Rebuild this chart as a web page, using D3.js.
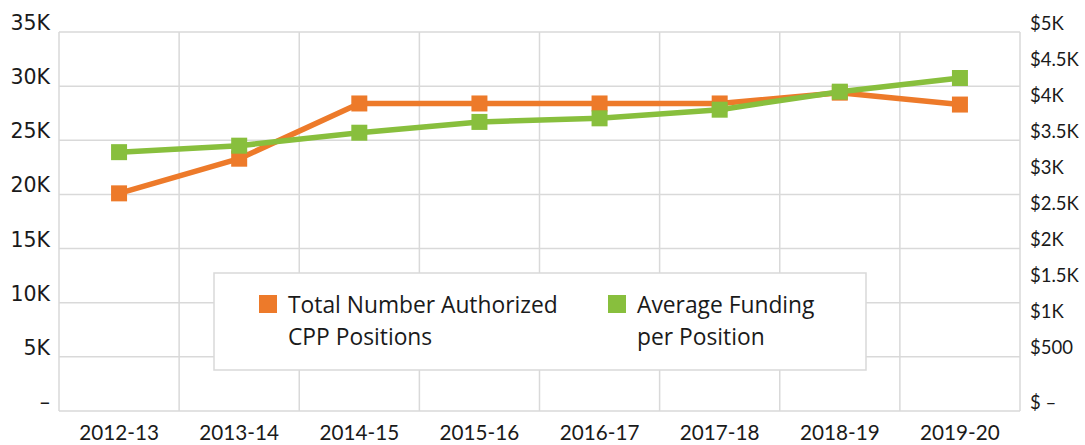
<!DOCTYPE html>
<html>
<head>
<meta charset="utf-8">
<script src="https://cdn.jsdelivr.net/npm/d3@7"></script>
<style>
  body { margin: 0; background: #fff; }
  svg text { fill: #1a1a1a; }
</style>
</head>
<body>
<svg id="chart"></svg>
<script>
var years = ["2012-13","2013-14","2014-15","2015-16","2016-17","2017-18","2018-19","2019-20"]
var positions = [20100, 23300, 28400, 28400, 28400, 28400, 29400, 28300]
var funding = [3220, 3310, 3490, 3640, 3690, 3810, 4060, 4250]
var leftTicks = [0, 5000, 10000, 15000, 20000, 25000, 30000, 35000]
var rightTicks = [0, 500, 1000, 1500, 2000, 2500, 3000, 3500, 4000, 4500, 5000]
var rightLabels = ["$ \u2013", "$500", "$1K", "$1.5K", "$2K", "$2.5K", "$3K", "$3.5K", "$4K", "$4.5K", "$5K"]

var screen = {width: 1085, height: 445}
var margins = {left: 59, right: 65, top: 32, bottom: 34}
var graph = {
    width: screen.width - margins.left - margins.right,
    height: screen.height - margins.top - margins.bottom
}

var orange = "#ED7A2A"
var green = "#88BF3D"

var svg = d3.select("#chart")
    .attr("width", screen.width)
    .attr("height", screen.height)

var target = svg.append("g")
    .attr("transform", "translate(" + margins.left + "," + margins.top + ")")

var xScale = d3.scaleBand()
    .domain(years)
    .range([0, graph.width])

var yLeft = d3.scaleLinear()
    .domain([0, 35000])
    .range([graph.height, 0])

// the secondary axis does not line up with the gridlines in the original
var yRight = d3.scaleLinear()
    .domain([0, 5000])
    .range([graph.height - 27, -8])

// grid
var grid = target.append("g")
grid.selectAll("line.h")
    .data(leftTicks)
    .enter()
    .append("line")
    .attr("x1", 0)
    .attr("x2", graph.width)
    .attr("y1", function(d) { return yLeft(d) })
    .attr("y2", function(d) { return yLeft(d) })
    .attr("stroke", "#d9d9d9")
    .attr("stroke-width", 1.5)

var bounds = years.map(function(y) { return xScale(y) }).concat([graph.width])
grid.selectAll("line.v")
    .data(bounds)
    .enter()
    .append("line")
    .attr("x1", function(d) { return d })
    .attr("x2", function(d) { return d })
    .attr("y1", 0)
    .attr("y2", graph.height)
    .attr("stroke", "#d9d9d9")
    .attr("stroke-width", 1.5)

// axes
var xAxis = d3.axisBottom(xScale).tickSize(0).tickPadding(14)
var gx = target.append("g")
    .attr("transform", "translate(0," + graph.height + ")")
    .call(xAxis)
gx.select(".domain").remove()
gx.selectAll("text")
    .style("font-family", "Lato")
    .style("font-size", "20.7px")
    .attr("fill", "#1a1a1a")

var yAxisL = d3.axisLeft(yLeft)
    .tickValues(leftTicks)
    .tickSize(0)
    .tickPadding(9)
    .tickFormat(function(d) { return d == 0 ? "\u2013" : (d / 1000) + "K" })
var gl = target.append("g").call(yAxisL)
gl.select(".domain").remove()
gl.selectAll("text")
    .style("font-family", "DejaVu Sans")
    .style("font-size", "20.5px")
    .attr("fill", "#1a1a1a")
    .attr("dy", "-0.12em")

var yAxisR = d3.axisRight(yRight)
    .tickValues(rightTicks)
    .tickSize(0)
    .tickPadding(10)
    .tickFormat(function(d, i) { return rightLabels[i] })
var gr = target.append("g")
    .attr("transform", "translate(" + graph.width + ",0)")
    .call(yAxisR)
gr.select(".domain").remove()
gr.selectAll("text")
    .style("font-family", "Lato")
    .style("font-size", "18.5px")
    .attr("fill", "#1a1a1a")
    .attr("y", function(d) { return d == 0 ? 19 : 0 })

// lines
var cx = function(d, i) { return xScale(years[i]) + xScale.bandwidth() / 2 }

var drawSeries = function(values, scale, color)
{
    var line = d3.line()
        .x(cx)
        .y(function(d) { return scale(d) })
    target.append("path")
        .datum(values)
        .attr("d", line)
        .attr("fill", "none")
        .attr("stroke", color)
        .attr("stroke-width", 5.5)
        .attr("stroke-linejoin", "round")
    target.append("g")
        .selectAll("rect")
        .data(values)
        .enter()
        .append("rect")
        .attr("x", function(d, i) { return cx(d, i) - 8 })
        .attr("y", function(d) { return scale(d) - 8 })
        .attr("width", 16)
        .attr("height", 16)
        .attr("fill", color)
}

drawSeries(positions, yLeft, orange)
drawSeries(funding, yRight, green)

// legend
var legend = svg.append("g")
legend.append("rect")
    .attr("x", 214)
    .attr("y", 273)
    .attr("width", 652)
    .attr("height", 97)
    .attr("fill", "#fff")
    .attr("stroke", "#d9d9d9")
    .attr("stroke-width", 1.5)

var items = [
    {color: orange, lines: ["Total Number Authorized", "CPP Positions"], x: 259},
    {color: green, lines: ["Average Funding", "per Position"], x: 608}
]
items.forEach(function(item)
{
    legend.append("rect")
        .attr("x", item.x)
        .attr("y", 295)
        .attr("width", 18)
        .attr("height", 18)
        .attr("fill", item.color)
    item.lines.forEach(function(t, j)
    {
        legend.append("text")
            .text(t)
            .attr("x", item.x + 29)
            .attr("y", 313 + j * 32)
            .style("font-family", "Open Sans")
            .style("font-size", "22.8px")
    })
})
</script>
</body>
</html>
